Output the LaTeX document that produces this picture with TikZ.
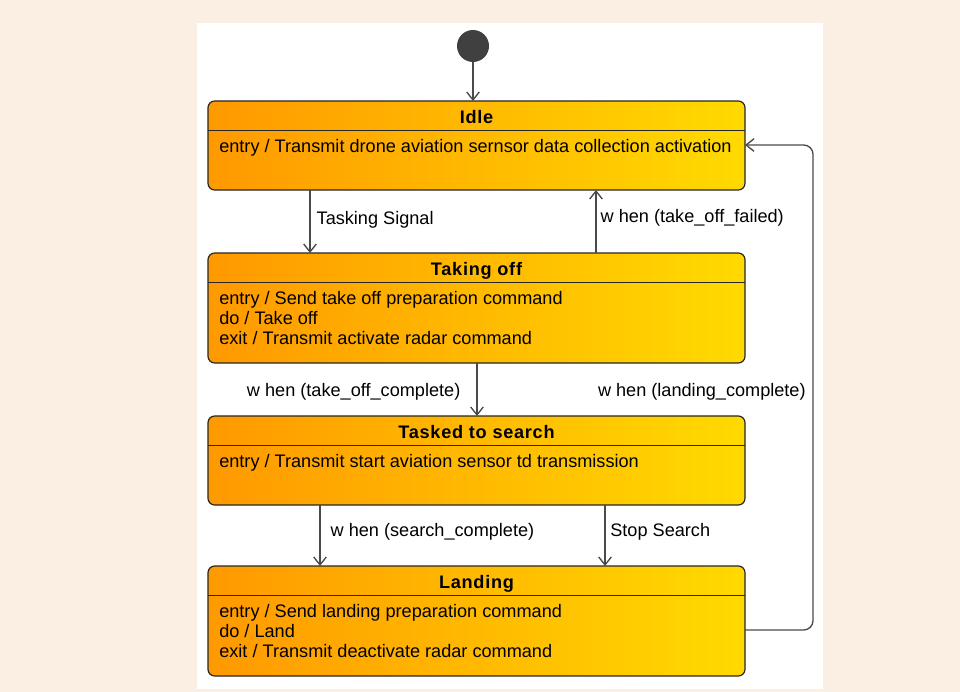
\documentclass[tikz,border=0pt]{standalone}
\usepackage{fontspec}
\setmainfont{Liberation Sans}
\newfontfamily\titlefont[LetterSpace=4]{Liberation Sans}
\usetikzlibrary{positioning,calc,arrows.meta}

\definecolor{bgpeach}{HTML}{FBEEE2}
\definecolor{stleft}{HTML}{FF9900}
\definecolor{stright}{HTML}{FFDA00}
\definecolor{lineclr}{HTML}{4A4A4A}
\definecolor{initclr}{HTML}{404040}

\tikzset{
  state/.style={draw=black!85, line width=0.9pt, rounded corners=5pt,
    left color=stleft, right color=stright, minimum width=402.75pt,
    inner sep=0pt, outer sep=0pt},
  stitle/.style={font=\titlefont\fontsize{13.6}{15}\selectfont\bfseries, inner sep=0pt, anchor=base},
  sbody/.style={font=\fontsize{13.6}{15}\selectfont, align=left, inner sep=0pt, anchor=north west},
  trans/.style={draw=lineclr, line width=1pt, -{Straight Barb[length=6pt,width=9.5pt]}},
  tlabel/.style={font=\fontsize{13.6}{15}\selectfont, inner sep=0pt}
}

\begin{document}
\begin{tikzpicture}[x=0.75pt,y=-0.75pt]
  \fill[bgpeach] (0,0) rectangle (960,692);
  \useasboundingbox (0,0) rectangle (960,692);
  \fill[white] (197,23) rectangle (823,689);

  % states
  \node[circle, fill=initclr, minimum size=24pt, inner sep=0pt] (init) at (473,46) {};
  \node[state, minimum height=66.75pt] (idle) at (476.5,145.5) {};
  \node[state, minimum height=82.5pt, below=47.25pt of idle] (takeoff) {};
  \node[state, minimum height=66.75pt, below=39.75pt of takeoff] (search) {};
  \node[state, minimum height=82.5pt, below=45.75pt of search] (landing) {};

  % titles and compartments
  \foreach \st/\name in {idle/Idle, takeoff/Taking off, search/Tasked to search, landing/Landing}{
    \node[stitle] (\st-title) at ($(\st.north)+(0,22)$) {\name};
    \draw[black!85, line width=0.9pt] ($(\st.north west)+(0,29.5)$) -- ($(\st.north east)+(0,29.5)$);
  }
  \node[sbody] (idle-body) at ($(idle.north west)+(11,38.5)$)
    {entry / Transmit drone aviation sernsor data collection activation};
  \node[sbody] (takeoff-body) at ($(takeoff.north west)+(11,38.5)$)
    {entry / Send take off preparation command\\do / Take off\\exit / Transmit activate radar command};
  \node[sbody] (search-body) at ($(search.north west)+(11,38.5)$)
    {entry / Transmit start aviation sensor td transmission};
  \node[sbody] (landing-body) at ($(landing.north west)+(11,38.5)$)
    {entry / Send landing preparation command\\do / Land\\exit / Transmit deactivate radar command};

  % transitions
  \draw[trans] (init) -- (init |- idle.north);
  \draw[trans] (310,0 |- idle.south) -- (310,0 |- takeoff.north)
    node[tlabel, midway, right=4.5pt, yshift=1pt] (sig) {Tasking Signal};
  \draw[trans] (596,0 |- takeoff.north) -- (596,0 |- idle.south)
    node[tlabel, midway, right=3pt, yshift=3pt] (failed) {w hen (take\_off\_failed)};
  \draw[trans] (477,0 |- takeoff.south) -- (477,0 |- search.north)
    node[tlabel, midway, left=12pt, yshift=-1.5pt] (complete) {w hen (take\_off\_complete)};
  \draw[trans] (320,0 |- search.south) -- (320,0 |- landing.north)
    node[tlabel, midway, right=7.5pt, yshift=3pt] (srchdone) {w hen (search\_complete)};
  \draw[trans] (605,0 |- search.south) -- (605,0 |- landing.north)
    node[tlabel, midway, right=3.5pt, yshift=3pt] (stop) {Stop Search};
  \draw[trans, rounded corners=7pt] (landing.east |- 0,630) -- (813,630)
    -- (813,145) node[tlabel, pos=0.5, left=5pt, yshift=-3pt] (landed) {w hen (landing\_complete)}
    -- (idle.east |- 0,145);
\end{tikzpicture}
\end{document}
